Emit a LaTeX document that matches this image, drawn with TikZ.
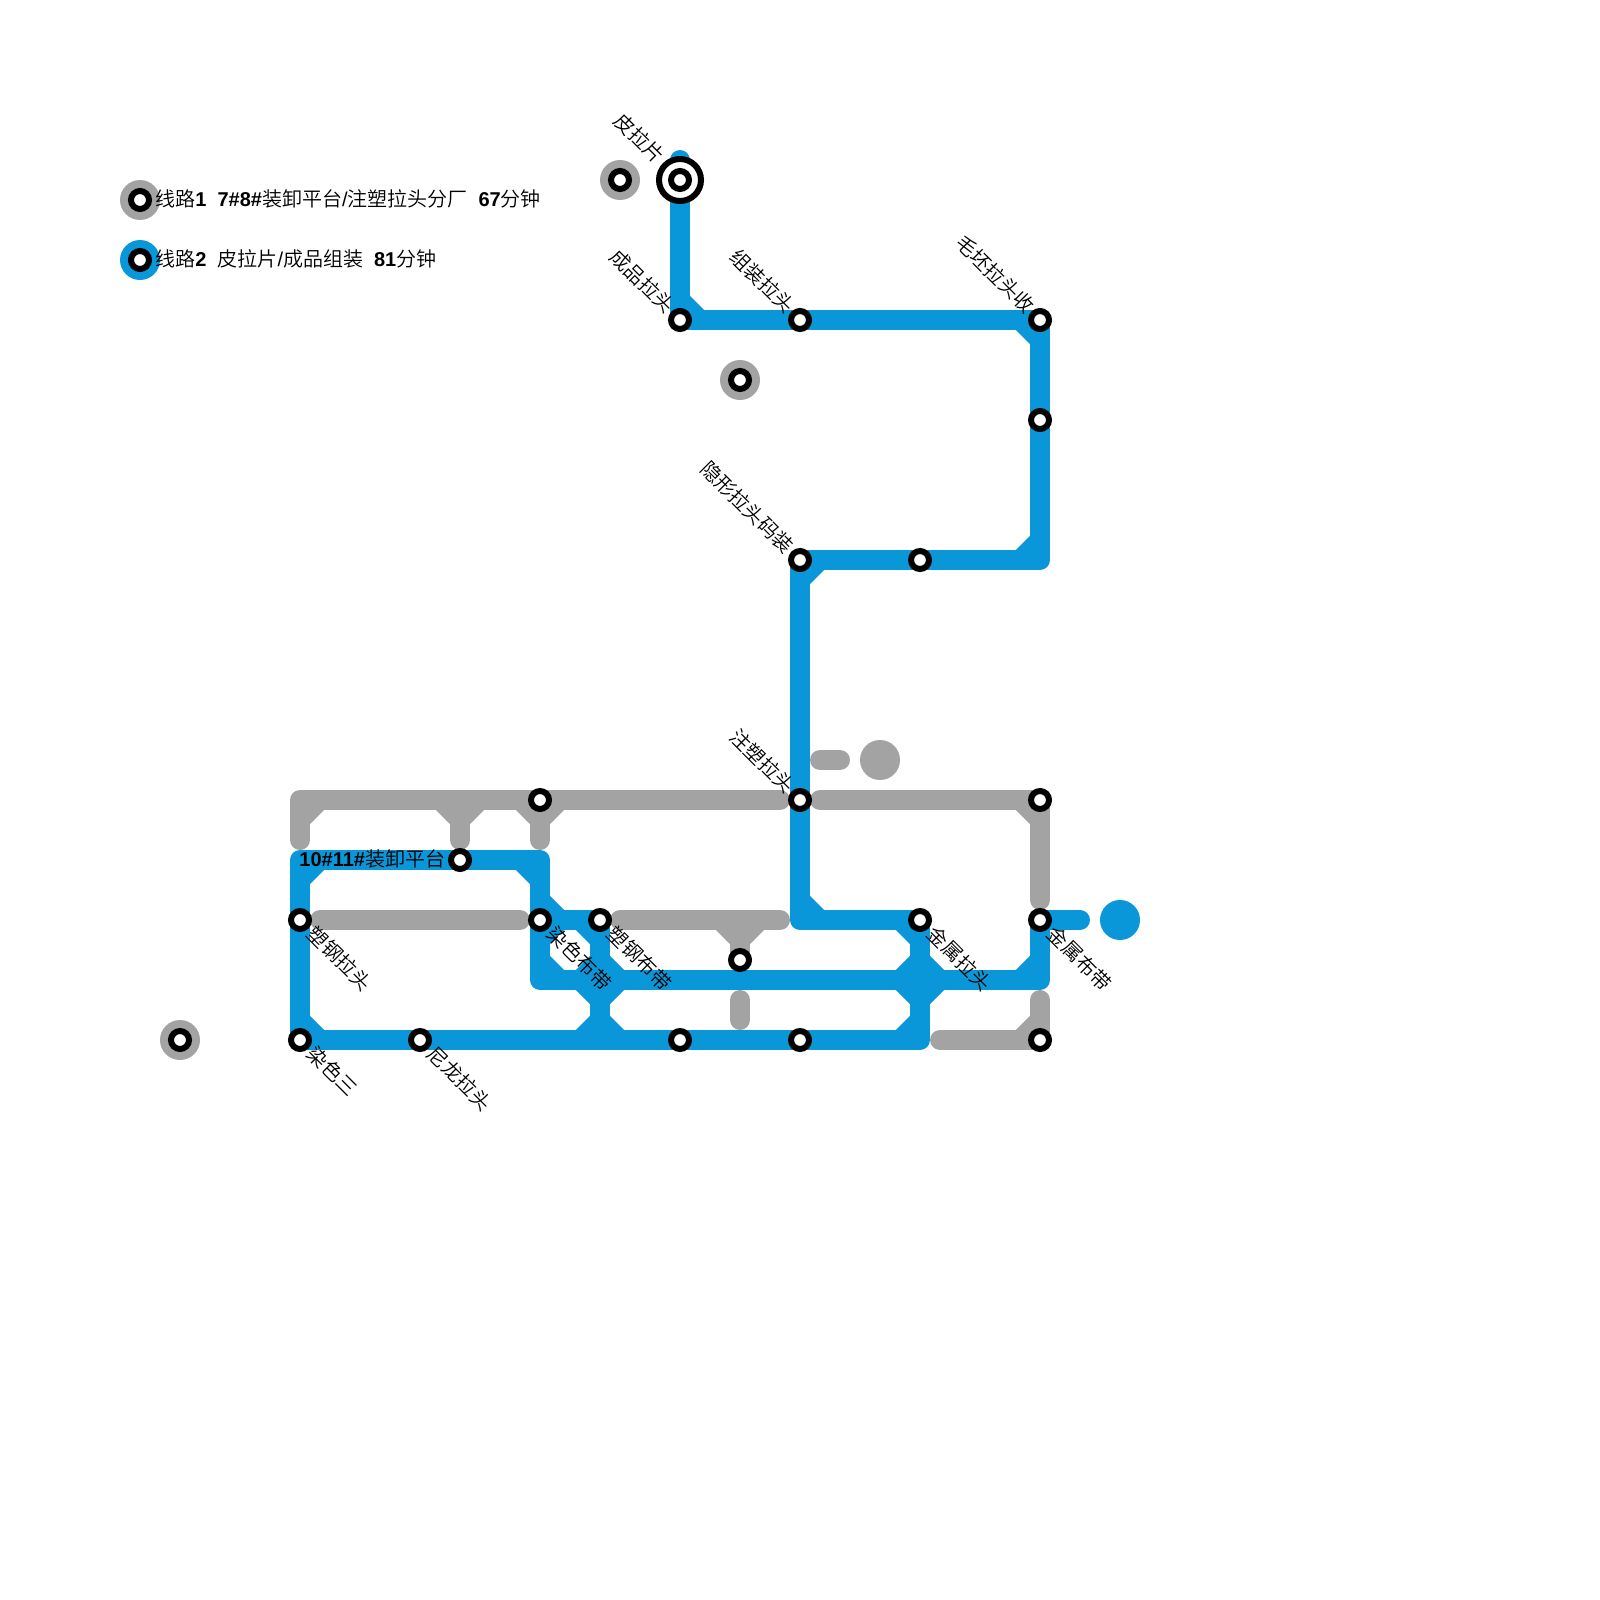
\documentclass[tikz,border=0pt]{standalone}
\usepackage{fontspec}
\setmainfont{Liberation Sans}
\newfontfamily\cjk{Noto Sans CJK SC}[UprightFont=* DemiLight]
\usetikzlibrary{backgrounds}
\definecolor{railblue}{HTML}{0A97D9}
\definecolor{railgray}{HTML}{A3A3A3}
\newcommand{\zh}[1]{{\cjk #1}}
\newcommand{\bd}[1]{{\bfseries #1}}
\tikzset{
  stn/.style={circle,draw=black,fill=white,line width=3pt,minimum size=9pt,inner sep=0pt},
  blob/.style={circle,minimum size=20pt,inner sep=0pt,fill=#1},
  rail/.style={line width=10pt,line cap=round,line join=round,draw=#1},
  cham/.style={line width=10pt,line cap=butt,draw=#1},
  txt/.style={inner sep=0pt,font=\fontsize{10pt}{12pt}\selectfont,text=black},
  upl/.style={txt,rotate=-45,anchor=east},
  dnr/.style={txt,rotate=-45,anchor=west},
  legend/.style={txt,anchor=west}
}
\begin{document}
\begin{tikzpicture}[x=0.5pt,y=-0.5pt]
\useasboundingbox (0,0) rectangle (1600,1600);
% interchange ring under its station
\node[circle,draw=black,fill=white,line width=3pt,minimum size=21pt,inner sep=0pt] (aring) at (680,180) {};
% stations
\foreach \n/\x/\y in {
  a/680/180, b/680/320, c/800/320, d/1040/320, e/1040/420, f/920/560, g/800/560,
  h/800/800, i/1040/800, j/1040/920, k/920/920, l/740/960, m/600/920, n/540/920,
  o/540/800, p/460/860, q/300/920, r/300/1040, s/420/1040, t/680/1040, u/800/1040, v/1040/1040,
  w/620/180, x/740/380, y/180/1040, z/140/200, zz/140/260}
  {\node[stn] (\n) at (\x,\y) {};}
% corner points
\foreach \n/\x/\y in {
  ctop/680/160, c1/1040/560, c2/800/920, c3/920/1040, c4/300/860, c5/540/860,
  c6/540/980, c7/1040/980, c8/1080/920, c9/600/1040,
  g1/300/840, g2/300/800, g3/780/800, g4/460/800, g5/460/840, g6/540/840,
  g7/820/800, g8/1040/900, g9/820/760, g10/840/760, g11/320/920, g12/520/920,
  g13/620/920, g14/780/920, g15/740/920, g16/740/1000, g17/740/1020,
  g18/940/1040, g19/1040/1000}
  {\coordinate (\n) at (\x,\y);}
\begin{pgfonlayer}{background}
\fill[white] (0,0) rectangle (1600,1600);
% gray lines
\node[blob=railgray] (lg1) at (z) {};
\node[blob=railgray] (sg1) at (w) {};
\node[blob=railgray] (sg2) at (x) {};
\node[blob=railgray] (sg3) at (y) {};
\node[blob=railgray] (sg4) at (880,760) {};
\draw[rail=railgray] (g1) -- (g2) -- (g3);
\draw[rail=railgray] (g4) -- (g5);
\draw[rail=railgray] (o.center) -- (g6);
\draw[rail=railgray] (g7) -- (i.center) -- (g8);
\draw[rail=railgray] (g9) -- (g10);
\draw[rail=railgray] (g11) -- (g12);
\draw[rail=railgray] (g13) -- (g14);
\draw[rail=railgray] (g15) -- (l.center);
\draw[rail=railgray] (g16) -- (g17);
\draw[rail=railgray] (g18) -- (v.center) -- (g19);
\foreach \xa/\ya/\xb/\yb in {300/820/320/800, 440/800/460/820, 480/800/460/820, 520/800/540/820, 560/800/540/820,
  1020/800/1040/820, 720/920/740/940, 760/920/740/940, 1020/1040/1040/1020}
  {\draw[cham=railgray] (\xa,\ya) -- (\xb,\yb);}
% blue lines
\node[blob=railblue] (lg2) at (zz) {};
\node[blob=railblue] (sb1) at (1120,920) {};
\draw[rail=railblue] (ctop) -- (b.center) -- (d.center) -- (c1) -- (g.center) -- (c2) -- (k.center) -- (c3) -- (r.center) -- (c4) -- (c5) -- (c6) -- (c7) -- (j.center) -- (c8);
\draw[rail=railblue] (n.center) -- (m.center) -- (c9);
\foreach \xa/\ya/\xb/\yb in {680/300/700/320, 1020/320/1040/340, 1020/560/1040/540, 800/580/820/560, 800/900/820/920,
  900/920/920/940, 900/1040/920/1020, 300/1020/320/1040, 300/880/320/860, 520/860/540/880,
  540/960/560/980, 540/900/560/920, 540/940/560/920, 580/920/600/940, 600/960/620/980, 600/960/580/980,
  620/980/600/1000, 580/980/600/1000, 600/1020/620/1040, 600/1020/580/1040,
  1020/980/1040/960, 900/980/920/960, 920/960/940/980, 900/980/920/1000, 940/980/920/1000}
  {\draw[cham=railblue] (\xa,\ya) -- (\xb,\yb);}
\end{pgfonlayer}
% labels
\node[legend] (t1) at (155,199) {\zh{线路}\bd{1}\hspace{5.5pt}\bd{7\#8\#}\zh{装卸平台}/\zh{注塑拉头分厂}\hspace{5.5pt}\bd{67}\zh{分钟}};
\node[legend] (t2) at (155,259) {\zh{线路}\bd{2}\hspace{5.5pt}\zh{皮拉片}/\zh{成品组装}\hspace{5.5pt}\bd{81}\zh{分钟}};
\node[legend] (t3) at (299,859) {\bd{10\#11\#}\zh{装卸平台}};
\node[upl] (l1) at (661,160) {\zh{皮拉片}};
\node[upl] (l2) at (671,310) {\zh{成品拉头}};
\node[upl] (l3) at (791,310) {\zh{组装拉头}};
\node[upl] (l4) at (1031,310) {\zh{毛坯拉头收}};
\node[upl] (l5) at (790,550) {\zh{隐形拉头码装}};
\node[upl] (l6) at (791,790) {\zh{注塑拉头}};
\node[dnr] (l7) at (311,930) {\zh{塑钢拉头}};
\node[dnr] (l8) at (551,930) {\zh{染色布带}};
\node[dnr] (l9) at (611,930) {\zh{塑钢布带}};
\node[dnr] (l10) at (931,930) {\zh{金属拉头}};
\node[dnr] (l11) at (1051,930) {\zh{金属布带}};
\node[dnr] (l12) at (311,1050) {\zh{染色三}};
\node[dnr] (l13) at (431,1050) {\zh{尼龙拉头}};
\end{tikzpicture}
\end{document}
